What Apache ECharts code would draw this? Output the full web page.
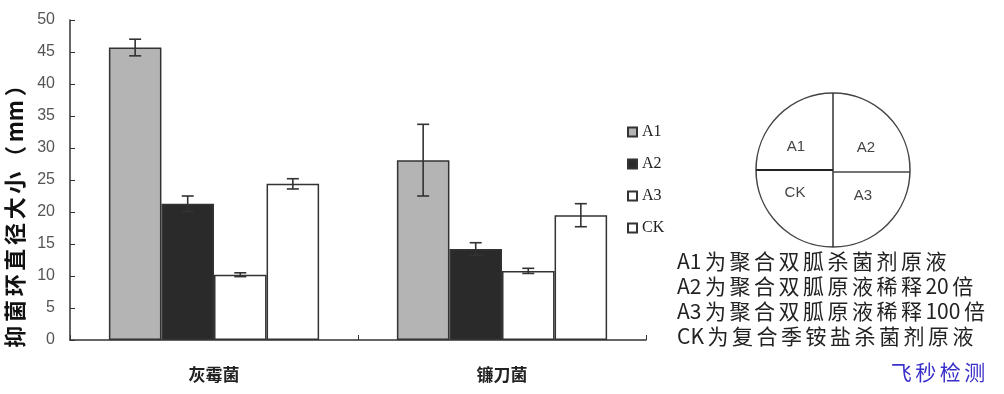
<!DOCTYPE html>
<html>
<head>
<meta charset="utf-8">
<script src="https://cdn.jsdelivr.net/npm/echarts@6/dist/echarts.min.js"></script>
<style>html,body{margin:0;padding:0;background:#fff;}#c{width:1004px;height:394px;}</style>
</head>
<body>
<div id="c"></div>
<script>
var categories = ['灰霉菌', '镰刀菌'];
var seriesNames = ['A1', 'A2', 'A3', 'CK'];
var A1 = [45.7, 28.1];
var A1Err = [1.3, 5.6];
var A2 = [21.3, 14.2];
var A2Err = [1.2, 1.0];
var A3 = [10.2, 10.8];
var A3Err = [0.3, 0.4];
var CK = [24.4, 19.5];
var CKErr = [0.8, 1.8];
var yTicks = [0, 5, 10, 15, 20, 25, 30, 35, 40, 45, 50];
var notes = ['A1为聚合双胍杀菌剂原液', 'A2为聚合双胍原液稀释20倍', 'A3为聚合双胍原液稀释100倍', 'CK为复合季铵盐杀菌剂原液'];
var yName = '抑菌环直径大小（mm）';
var watermark = '飞秒检测';

var values = [A1, A2, A3, CK];
var errs = [A1Err, A2Err, A3Err, CKErr];
var fills = ['#b4b4b4', '#2a2a2a', '#ffffff', '#ffffff'];
var CAT_GAP = 0.27;

function spaced(s, sp) {
  var toks = s.match(/[A-Za-z0-9]+|./g);
  return toks.join(sp);
}

var chart = echarts.init(document.getElementById('c'), null, {renderer: 'canvas'});

var series = [];
seriesNames.forEach(function (n, i) {
  series.push({
    name: n, type: 'bar', data: values[i],
    barGap: '0%', barCategoryGap: (CAT_GAP * 100) + '%',
    itemStyle: {color: fills[i], borderColor: '#333', borderWidth: 1.5},
    emphasis: {disabled: true}, z: 2
  });
});
seriesNames.forEach(function (n, i) {
  var data = values[i].map(function (v, k) { return [k, v, errs[i][k]]; });
  series.push({
    type: 'custom', name: n + '_err', data: data, z: 5, silent: true,
    renderItem: function (params, api) {
      var k = api.value(0), v = api.value(1), e = api.value(2);
      var band = api.size([1, 0])[0];
      var bw = band * (1 - CAT_GAP) / 4;
      var off = (i - 1.5) * bw;
      var top = api.coord([k, v + e]);
      var bot = api.coord([k, v - e]);
      var x = top[0] + off;
      var c = 6;
      var st = {stroke: '#333', lineWidth: 1.6};
      return {type: 'group', children: [
        {type: 'line', shape: {x1: x, y1: top[1], x2: x, y2: bot[1]}, style: st},
        {type: 'line', shape: {x1: x - c, y1: top[1], x2: x + c, y2: top[1]}, style: st},
        {type: 'line', shape: {x1: x - c, y1: bot[1], x2: x + c, y2: bot[1]}, style: st}
      ]};
    }
  });
});

var cx = 833, cy = 170, r = 77;
var lblFont = '15px "Liberation Sans"';
var graphics = [
  {type: 'circle', shape: {cx: cx, cy: cy, r: r}, style: {fill: 'none', stroke: '#444', lineWidth: 1.5}},
  {type: 'line', shape: {x1: cx, y1: cy - r, x2: cx, y2: cy + r}, style: {stroke: '#333', lineWidth: 1.5}},
  {type: 'line', shape: {x1: cx - r, y1: cy, x2: cx, y2: cy}, style: {stroke: '#222', lineWidth: 2.2}},
  {type: 'line', shape: {x1: cx, y1: cy + 2, x2: cx + r, y2: cy + 2}, style: {stroke: '#444', lineWidth: 1.5}},
  {type: 'text', x: 796, y: 147, style: {text: 'A1', fill: '#444', font: lblFont, align: 'center', verticalAlign: 'middle'}},
  {type: 'text', x: 866, y: 148, style: {text: 'A2', fill: '#444', font: lblFont, align: 'center', verticalAlign: 'middle'}},
  {type: 'text', x: 795, y: 193, style: {text: 'CK', fill: '#444', font: lblFont, align: 'center', verticalAlign: 'middle'}},
  {type: 'text', x: 863, y: 196, style: {text: 'A3', fill: '#444', font: lblFont, align: 'center', verticalAlign: 'middle'}},
  {type: 'text', x: 15, y: 211, rotation: Math.PI / 2,
   style: {text: spaced(yName, '\u2006'), fill: '#111', font: 'bold 22px "Noto Sans CJK SC"', align: 'center', verticalAlign: 'middle'}},
  {type: 'text', x: 938, y: 372,
   style: {text: spaced(watermark, '\u2006'), fill: '#3a2fc8', font: '21px "Noto Sans CJK SC"', align: 'center', verticalAlign: 'middle'}}
];
notes.forEach(function (t, k) {
  graphics.push({type: 'text', x: 677, y: 261 + k * 25,
    style: {text: spaced(t, '\u2006'), fill: '#222', font: '21px "Noto Sans CJK SC"', align: 'left', verticalAlign: 'middle'}});
});

chart.setOption({
  animation: false,
  backgroundColor: '#fff',
  grid: {left: 70, right: 358, top: 20, bottom: 54, containLabel: false},
  legend: {
    orient: 'vertical', left: 622, top: 119, itemGap: 16,
    itemWidth: 9, itemHeight: 9, icon: 'rect',
    data: seriesNames,
    textStyle: {fontFamily: 'Liberation Serif', fontSize: 16, color: '#222', lineHeight: 16},
    selectedMode: false
  },
  xAxis: {
    type: 'category', data: categories,
    axisLine: {lineStyle: {color: '#333', width: 1.5}},
    axisTick: {show: true, inside: true, length: 5, lineStyle: {color: '#333'}},
    axisLabel: {margin: 26, fontSize: 17, fontWeight: 'bold', color: '#222', fontFamily: 'Noto Sans CJK SC'},
    splitLine: {show: false}
  },
  yAxis: {
    type: 'value', min: yTicks[0], max: yTicks[yTicks.length - 1], interval: yTicks[1] - yTicks[0],
    axisLine: {show: true, lineStyle: {color: '#333', width: 1.5}},
    axisTick: {show: true, inside: true, length: 5, lineStyle: {color: '#333'}},
    axisLabel: {margin: 15, fontSize: 16, color: '#555', fontFamily: 'Liberation Sans'},
    splitLine: {show: false}
  },
  series: series,
  graphic: graphics
});
</script>
</body>
</html>
